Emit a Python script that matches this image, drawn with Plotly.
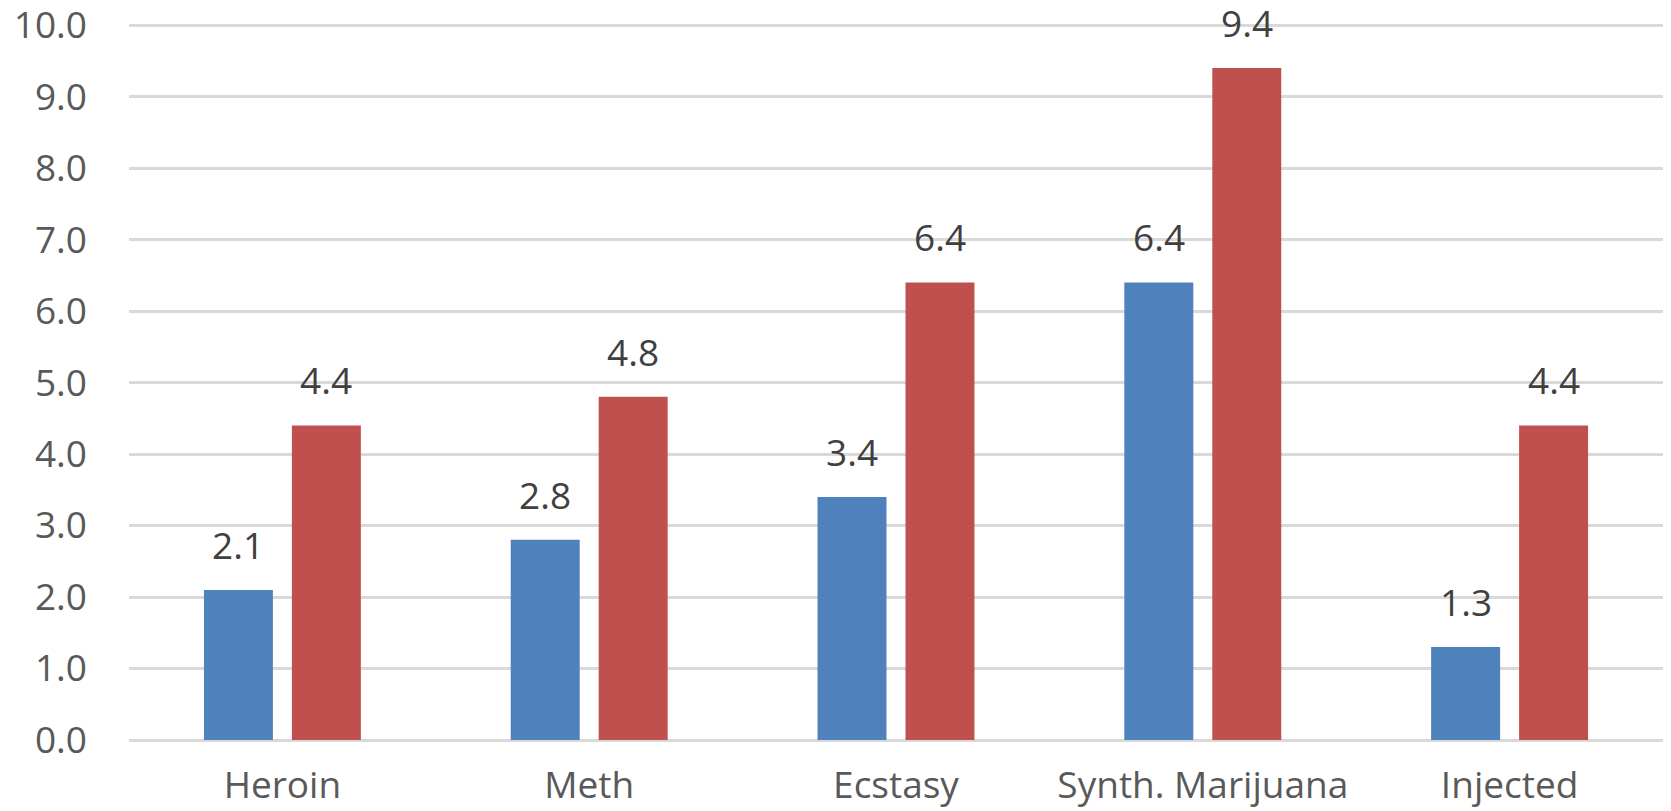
import plotly.graph_objects as go

# Categories and the two series shown for each substance
categories = ["Heroin", "Meth", "Ecstasy", "Synth. Marijuana", "Injected"]
series_a = [2.1, 2.8, 3.4, 6.4, 1.3]
series_b = [4.4, 4.8, 6.4, 9.4, 4.4]
y_ticks = [0, 1, 2, 3, 4, 5, 6, 7, 8, 9, 10]

BLUE = "#4F81BD"
RED = "#C0504D"
FONT = "Open Sans, Noto Sans, sans-serif"
FSIZE = 37

fig = go.Figure()
fig.add_trace(go.Bar(x=categories, y=series_a, marker=dict(color=BLUE, line=dict(width=0)),
                     offsetgroup="a", hoverinfo="skip"))
fig.add_trace(go.Bar(x=categories, y=series_b, marker=dict(color=RED, line=dict(width=0)),
                     offsetgroup="b", hoverinfo="skip"))

# Value labels above each bar
slot = 0.2867  # half of a group's width, in category units
for i, cat in enumerate(categories):
    for vals, dx in ((series_a, -slot / 2), (series_b, slot / 2)):
        fig.add_annotation(x=i + dx, y=vals[i], xref="x", yref="y",
                           text=f"{vals[i]:.1f}", showarrow=False,
                           yanchor="bottom", yshift=18,
                           font=dict(family=FONT, size=FSIZE, color="#404040"))

fig.update_layout(
    width=1671, height=811,
    margin=dict(l=129, r=8, t=23, b=71),
    paper_bgcolor="white", plot_bgcolor="white",
    barmode="group", bargap=0.4265, bargroupgap=0.216,
    showlegend=False,
    font=dict(family=FONT, size=FSIZE, color="#595959"),
)
fig.update_xaxes(type="category", showgrid=False, showline=False, ticks="",
                 automargin=False, ticklabelstandoff=20, range=[-0.5, 4.5],
                 tickfont=dict(family=FONT, size=FSIZE, color="#595959"))
# top of the range sits a touch above 10 so the 10.0 gridline is kept
fig.update_yaxes(range=[0, 10.03], tickvals=y_ticks, tickformat=".1f",
                 showgrid=True, gridcolor="#D9D9D9", gridwidth=2.5,
                 zeroline=True, zerolinecolor="#D9D9D9", zerolinewidth=2.5,
                 showline=False, ticks="", automargin=False, ticklabelstandoff=41,
                 ticklabeloverflow="allow",
                 tickfont=dict(family=FONT, size=FSIZE, color="#595959"))

fig.write_html("out.html")
